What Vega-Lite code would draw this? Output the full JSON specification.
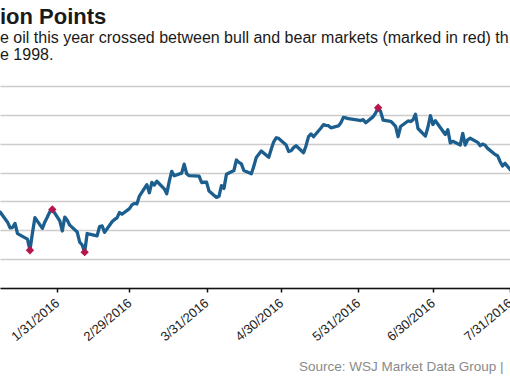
{
  "$schema": "https://vega.github.io/schema/vega-lite/v6.json",
  "autosize": {"type": "none"},
  "width": 510,
  "height": 202,
  "padding": {"top": 86, "left": 0, "right": 0, "bottom": 94},
  "background": "white",
  "config": {"view": {"stroke": null}, "font": "Liberation Sans"},
  "title": {
    "text": "ion Points",
    "subtitle": ["e oil this year crossed between bull and bear markets (marked in red) th", "e 1998."],
    "anchor": "start",
    "frame": "group",
    "font": "Liberation Sans",
    "fontSize": 22,
    "fontWeight": "bold",
    "color": "#1a1a1a",
    "subtitleFont": "Liberation Sans",
    "subtitleFontSize": 16,
    "subtitleColor": "#1a1a1a",
    "subtitleLineHeight": 17,
    "subtitlePadding": 1,
    "offset": 22
  },
  "data": {"values": [
    {"date": "2016-01-07", "price": 33.27, "red": 0},
    {"date": "2016-01-08", "price": 33.16, "red": 0},
    {"date": "2016-01-11", "price": 31.41, "red": 0},
    {"date": "2016-01-12", "price": 30.44, "red": 0},
    {"date": "2016-01-13", "price": 30.48, "red": 0},
    {"date": "2016-01-14", "price": 31.20, "red": 0},
    {"date": "2016-01-15", "price": 29.42, "red": 0},
    {"date": "2016-01-19", "price": 28.46, "red": 0},
    {"date": "2016-01-20", "price": 26.55, "red": 1},
    {"date": "2016-01-21", "price": 29.53, "red": 0},
    {"date": "2016-01-22", "price": 32.19, "red": 0},
    {"date": "2016-01-25", "price": 30.34, "red": 0},
    {"date": "2016-01-26", "price": 31.45, "red": 0},
    {"date": "2016-01-27", "price": 32.30, "red": 0},
    {"date": "2016-01-28", "price": 33.22, "red": 0},
    {"date": "2016-01-29", "price": 33.62, "red": 1},
    {"date": "2016-02-01", "price": 31.62, "red": 0},
    {"date": "2016-02-02", "price": 29.88, "red": 0},
    {"date": "2016-02-03", "price": 32.28, "red": 0},
    {"date": "2016-02-04", "price": 31.72, "red": 0},
    {"date": "2016-02-05", "price": 30.89, "red": 0},
    {"date": "2016-02-08", "price": 29.69, "red": 0},
    {"date": "2016-02-09", "price": 27.94, "red": 0},
    {"date": "2016-02-10", "price": 27.45, "red": 0},
    {"date": "2016-02-11", "price": 26.21, "red": 1},
    {"date": "2016-02-12", "price": 29.44, "red": 0},
    {"date": "2016-02-16", "price": 29.04, "red": 0},
    {"date": "2016-02-17", "price": 30.66, "red": 0},
    {"date": "2016-02-18", "price": 30.77, "red": 0},
    {"date": "2016-02-19", "price": 29.64, "red": 0},
    {"date": "2016-02-22", "price": 31.48, "red": 0},
    {"date": "2016-02-23", "price": 31.87, "red": 0},
    {"date": "2016-02-24", "price": 32.15, "red": 0},
    {"date": "2016-02-25", "price": 33.07, "red": 0},
    {"date": "2016-02-26", "price": 32.78, "red": 0},
    {"date": "2016-02-29", "price": 33.75, "red": 0},
    {"date": "2016-03-01", "price": 34.40, "red": 0},
    {"date": "2016-03-02", "price": 34.66, "red": 0},
    {"date": "2016-03-03", "price": 34.57, "red": 0},
    {"date": "2016-03-04", "price": 35.92, "red": 0},
    {"date": "2016-03-07", "price": 37.90, "red": 0},
    {"date": "2016-03-08", "price": 36.50, "red": 0},
    {"date": "2016-03-09", "price": 38.29, "red": 0},
    {"date": "2016-03-10", "price": 37.84, "red": 0},
    {"date": "2016-03-11", "price": 38.50, "red": 0},
    {"date": "2016-03-14", "price": 37.18, "red": 0},
    {"date": "2016-03-15", "price": 36.34, "red": 0},
    {"date": "2016-03-16", "price": 38.46, "red": 0},
    {"date": "2016-03-17", "price": 40.20, "red": 0},
    {"date": "2016-03-18", "price": 39.44, "red": 0},
    {"date": "2016-03-21", "price": 39.91, "red": 0},
    {"date": "2016-03-22", "price": 41.45, "red": 0},
    {"date": "2016-03-23", "price": 39.79, "red": 0},
    {"date": "2016-03-24", "price": 39.46, "red": 0},
    {"date": "2016-03-28", "price": 39.39, "red": 0},
    {"date": "2016-03-29", "price": 38.28, "red": 0},
    {"date": "2016-03-30", "price": 38.32, "red": 0},
    {"date": "2016-03-31", "price": 38.34, "red": 0},
    {"date": "2016-04-01", "price": 36.79, "red": 0},
    {"date": "2016-04-04", "price": 35.70, "red": 0},
    {"date": "2016-04-05", "price": 35.89, "red": 0},
    {"date": "2016-04-06", "price": 37.75, "red": 0},
    {"date": "2016-04-07", "price": 37.26, "red": 0},
    {"date": "2016-04-08", "price": 39.72, "red": 0},
    {"date": "2016-04-11", "price": 40.36, "red": 0},
    {"date": "2016-04-12", "price": 42.17, "red": 0},
    {"date": "2016-04-13", "price": 41.76, "red": 0},
    {"date": "2016-04-14", "price": 41.50, "red": 0},
    {"date": "2016-04-15", "price": 40.36, "red": 0},
    {"date": "2016-04-18", "price": 39.78, "red": 0},
    {"date": "2016-04-19", "price": 41.08, "red": 0},
    {"date": "2016-04-20", "price": 42.63, "red": 0},
    {"date": "2016-04-21", "price": 43.18, "red": 0},
    {"date": "2016-04-22", "price": 43.73, "red": 0},
    {"date": "2016-04-25", "price": 42.64, "red": 0},
    {"date": "2016-04-26", "price": 44.04, "red": 0},
    {"date": "2016-04-27", "price": 45.33, "red": 0},
    {"date": "2016-04-28", "price": 46.03, "red": 0},
    {"date": "2016-04-29", "price": 45.92, "red": 0},
    {"date": "2016-05-02", "price": 44.78, "red": 0},
    {"date": "2016-05-03", "price": 43.65, "red": 0},
    {"date": "2016-05-04", "price": 43.78, "red": 0},
    {"date": "2016-05-05", "price": 44.32, "red": 0},
    {"date": "2016-05-06", "price": 44.66, "red": 0},
    {"date": "2016-05-09", "price": 43.44, "red": 0},
    {"date": "2016-05-10", "price": 44.66, "red": 0},
    {"date": "2016-05-11", "price": 46.23, "red": 0},
    {"date": "2016-05-12", "price": 46.70, "red": 0},
    {"date": "2016-05-13", "price": 46.21, "red": 0},
    {"date": "2016-05-16", "price": 47.72, "red": 0},
    {"date": "2016-05-17", "price": 48.31, "red": 0},
    {"date": "2016-05-18", "price": 48.19, "red": 0},
    {"date": "2016-05-19", "price": 48.12, "red": 0},
    {"date": "2016-05-20", "price": 47.75, "red": 0},
    {"date": "2016-05-23", "price": 48.08, "red": 0},
    {"date": "2016-05-24", "price": 48.62, "red": 0},
    {"date": "2016-05-25", "price": 49.56, "red": 0},
    {"date": "2016-05-26", "price": 49.48, "red": 0},
    {"date": "2016-05-27", "price": 49.33, "red": 0},
    {"date": "2016-05-31", "price": 49.10, "red": 0},
    {"date": "2016-06-01", "price": 49.01, "red": 0},
    {"date": "2016-06-02", "price": 49.17, "red": 0},
    {"date": "2016-06-03", "price": 48.62, "red": 0},
    {"date": "2016-06-06", "price": 49.69, "red": 0},
    {"date": "2016-06-07", "price": 50.36, "red": 0},
    {"date": "2016-06-08", "price": 51.23, "red": 1},
    {"date": "2016-06-09", "price": 50.56, "red": 0},
    {"date": "2016-06-10", "price": 49.07, "red": 0},
    {"date": "2016-06-13", "price": 48.88, "red": 0},
    {"date": "2016-06-14", "price": 48.49, "red": 0},
    {"date": "2016-06-15", "price": 48.01, "red": 0},
    {"date": "2016-06-16", "price": 46.21, "red": 0},
    {"date": "2016-06-17", "price": 47.98, "red": 0},
    {"date": "2016-06-20", "price": 48.94, "red": 0},
    {"date": "2016-06-21", "price": 48.85, "red": 0},
    {"date": "2016-06-22", "price": 49.13, "red": 0},
    {"date": "2016-06-23", "price": 50.11, "red": 0},
    {"date": "2016-06-24", "price": 47.64, "red": 0},
    {"date": "2016-06-27", "price": 46.33, "red": 0},
    {"date": "2016-06-28", "price": 47.85, "red": 0},
    {"date": "2016-06-29", "price": 49.88, "red": 0},
    {"date": "2016-06-30", "price": 48.33, "red": 0},
    {"date": "2016-07-01", "price": 48.99, "red": 0},
    {"date": "2016-07-05", "price": 46.60, "red": 0},
    {"date": "2016-07-06", "price": 47.43, "red": 0},
    {"date": "2016-07-07", "price": 45.14, "red": 0},
    {"date": "2016-07-08", "price": 45.41, "red": 0},
    {"date": "2016-07-11", "price": 44.76, "red": 0},
    {"date": "2016-07-12", "price": 46.80, "red": 0},
    {"date": "2016-07-13", "price": 44.75, "red": 0},
    {"date": "2016-07-14", "price": 45.68, "red": 0},
    {"date": "2016-07-15", "price": 45.95, "red": 0},
    {"date": "2016-07-18", "price": 45.24, "red": 0},
    {"date": "2016-07-19", "price": 44.65, "red": 0},
    {"date": "2016-07-20", "price": 44.94, "red": 0},
    {"date": "2016-07-21", "price": 44.75, "red": 0},
    {"date": "2016-07-22", "price": 44.19, "red": 0},
    {"date": "2016-07-25", "price": 43.13, "red": 0},
    {"date": "2016-07-26", "price": 42.92, "red": 0},
    {"date": "2016-07-27", "price": 41.92, "red": 0},
    {"date": "2016-07-28", "price": 41.14, "red": 0},
    {"date": "2016-07-29", "price": 41.60, "red": 0},
    {"date": "2016-08-01", "price": 40.06, "red": 0}
  ]},
  "encoding": {
    "x": {
      "field": "date",
      "type": "temporal",
      "scale": {"type": "utc", "domain": [{"year": 2016, "month": 1, "date": 7, "hours": 23, "utc": true}, {"year": 2016, "month": 7, "date": 31, "utc": true}]},
      "axis": {
        "values": [
          {"year": 2016, "month": 1, "date": 31, "utc": true},
          {"year": 2016, "month": 2, "date": 29, "utc": true},
          {"year": 2016, "month": 3, "date": 31, "utc": true},
          {"year": 2016, "month": 4, "date": 30, "utc": true},
          {"year": 2016, "month": 5, "date": 31, "utc": true},
          {"year": 2016, "month": 6, "date": 30, "utc": true},
          {"year": 2016, "month": 7, "date": 31, "utc": true}
        ],
        "labelExpr": "utcFormat(datum.value, '%-m/%-d/%Y')",
        "labelAngle": -40,
        "labelAlign": "right",
        "labelBaseline": "middle",
        "labelFont": "Liberation Sans",
        "labelFontSize": 13,
        "labelColor": "#222222",
        "labelPadding": 9,
        "labelOverlap": false,
        "labelBound": false,
        "labelFlush": false,
        "grid": false,
        "domainColor": "#111111",
        "domainWidth": 1.5,
        "tickColor": "#111111",
        "tickWidth": 1.5,
        "tickSize": 4,
        "title": "Source: WSJ Market Data Group  |",
        "titleFont": "Liberation Sans",
        "titleFontSize": 13.5,
        "titleFontWeight": "normal",
        "titleColor": "#8a8a8a",
        "titleAnchor": "end",
        "titleAlign": "right",
        "titleBaseline": "alphabetic",
        "titleX": 503,
        "titleY": 82
      }
    },
    "y": {
      "field": "price",
      "type": "quantitative",
      "scale": {"domain": [20, 55], "nice": false, "zero": false},
      "axis": {
        "values": [20, 25, 30, 35, 40, 45, 50, 55],
        "labels": false,
        "ticks": false,
        "domain": false,
        "title": null,
        "grid": true,
        "gridColor": "#cccccc",
        "gridWidth": 1.5
      }
    }
  },
  "layer": [
    {
      "mark": {"type": "line", "color": "#1c5f8e", "strokeWidth": 3.3, "clip": true, "strokeJoin": "round"}
    },
    {
      "transform": [{"filter": "datum.red == 1"}],
      "mark": {"type": "point", "shape": "diamond", "filled": true, "color": "#b5164c", "size": 70, "opacity": 1, "clip": true}
    }
  ]
}
